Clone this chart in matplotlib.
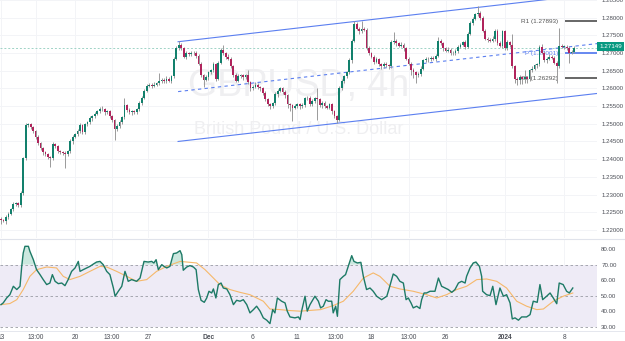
import numpy as np
import matplotlib
matplotlib.use("Agg")
import matplotlib.pyplot as plt
from matplotlib.transforms import blended_transform_factory

plt.rcParams['font.family'] = ['Liberation Sans', 'DejaVu Sans']

# ---------------- data ----------------
first_open = 1.2232
closes = [
    1.2228, 1.2225, 1.2236, 1.2245, 1.2259, 1.2273, 1.2276, 1.2270, 1.2304, 1.2402,
    1.2496, 1.2498, 1.2490, 1.2479, 1.2464, 1.2445, 1.2431, 1.2419, 1.2414, 1.2405,
    1.2402, 1.2442, 1.2436, 1.2422, 1.2419, 1.2417, 1.2414, 1.2422, 1.2450, 1.2464,
    1.2470, 1.2479, 1.2496, 1.2476, 1.2498, 1.2504, 1.2515, 1.2521, 1.2529, 1.2535,
    1.2543, 1.2541, 1.2532, 1.2535, 1.2521, 1.2510, 1.2484, 1.2493, 1.2504, 1.2518,
    1.2552, 1.2538, 1.2532, 1.2535, 1.2532, 1.2541, 1.2558, 1.2574, 1.2594, 1.2608,
    1.2611, 1.2608, 1.2611, 1.2614, 1.2622, 1.2625, 1.2620, 1.2628, 1.2622, 1.2634,
    1.2684, 1.2715, 1.2724, 1.2713, 1.2690, 1.2699, 1.2696, 1.2701, 1.2699, 1.2693,
    1.2670, 1.2637, 1.2625, 1.2631, 1.2645, 1.2651, 1.2668, 1.2628, 1.2673, 1.2710,
    1.2699, 1.2690, 1.2684, 1.2662, 1.2639, 1.2622, 1.2634, 1.2637, 1.2631, 1.2637,
    1.2617, 1.2600, 1.2605, 1.2611, 1.2603, 1.2600, 1.2586, 1.2569, 1.2555, 1.2549,
    1.2558, 1.2583, 1.2594, 1.2600, 1.2589, 1.2580, 1.2555, 1.2552, 1.2546, 1.2549,
    1.2555, 1.2549, 1.2552, 1.2572, 1.2574, 1.2555, 1.2563, 1.2572, 1.2569, 1.2552,
    1.2558, 1.2549, 1.2546, 1.2555, 1.2535, 1.2521, 1.2512, 1.2600, 1.2622, 1.2634,
    1.2645, 1.2679, 1.2735, 1.2783, 1.2769, 1.2761, 1.2769, 1.2766, 1.2715, 1.2699,
    1.2690, 1.2676, 1.2682, 1.2668, 1.2662, 1.2670, 1.2665, 1.2662, 1.2730, 1.2735,
    1.2727, 1.2721, 1.2724, 1.2713, 1.2684, 1.2670, 1.2653, 1.2645, 1.2637, 1.2642,
    1.2656, 1.2679, 1.2684, 1.2682, 1.2687, 1.2684, 1.2693, 1.2735, 1.2727, 1.2713,
    1.2707, 1.2710, 1.2701, 1.2699, 1.2707, 1.2718, 1.2724, 1.2730, 1.2718, 1.2755,
    1.2786, 1.2797, 1.2809, 1.2814, 1.2800, 1.2763, 1.2741, 1.2738, 1.2735, 1.2741,
    1.2763, 1.2727, 1.2721, 1.2761, 1.2713, 1.2730, 1.2724, 1.2662, 1.2628, 1.2625,
    1.2631, 1.2628, 1.2631, 1.2628, 1.2651, 1.2656, 1.2665, 1.2668, 1.2718, 1.2701,
    1.2679, 1.2684, 1.2690, 1.2687, 1.2673, 1.2662, 1.2721, 1.2718, 1.2718, 1.2715,
    1.2701, 1.2704, 1.2715,
]
# wick extents beyond the body, in pips
upper_wick = [
    4, 3, 5, 6, 4, 5, 3, 4, 5, 4, 6, 5, 4, 3, 4, 5, 3, 4, 5, 4,
    5, 6, 4, 5, 4, 3, 5, 4, 6, 5, 4, 5, 6, 4, 5, 4, 6, 5, 4, 5,
    4, 6, 5, 4, 5, 3, 4, 5, 6, 5, 20, 4, 6, 5, 4, 5, 6, 4, 5, 4,
    5, 4, 6, 5, 22, 4, 5, 6, 4, 5, 4, 6, 10, 5, 4, 6, 5, 4, 5, 6,
    5, 4, 5, 6, 4, 5, 6, 5, 4, 4, 14, 5, 6, 4, 5, 4, 6, 5, 4, 5,
    14, 5, 4, 6, 5, 4, 5, 6, 4, 5, 4, 6, 5, 4, 5, 6, 4, 5, 4, 6,
    5, 4, 6, 5, 4, 5, 6, 5, 30, 4, 6, 5, 4, 5, 4, 5, 4, 6, 5, 4,
    5, 6, 4, 8, 5, 4, 22, 5, 6, 4, 5, 4, 6, 5, 4, 5, 6, 5, 8, 25,
    5, 4, 6, 5, 4, 5, 6, 4, 5, 4, 6, 5, 4, 5, 6, 4, 5, 10, 5, 4,
    5, 6, 4, 5, 4, 6, 5, 4, 6, 5, 4, 6, 5, 20, 5, 4, 6, 5, 4, 6,
    5, 4, 6, 5, 4, 6, 5, 30, 4, 5, 6, 4, 20, 5, 4, 6, 5, 4, 6, 8,
    5, 4, 6, 5, 4, 5, 51, 5, 4, 6, 5, 4, 5,
]
lower_wick = [
    10, 4, 8, 5, 4, 6, 5, 4, 5, 4, 5, 6, 4, 5, 6, 4, 5, 6, 4, 5,
    25, 4, 5, 6, 4, 5, 40, 5, 4, 6, 5, 4, 5, 6, 4, 5, 4, 6, 5, 4,
    5, 4, 6, 5, 4, 5, 30, 5, 4, 6, 5, 4, 5, 6, 4, 5, 4, 6, 5, 4,
    5, 6, 4, 5, 4, 6, 5, 4, 5, 6, 4, 5, 6, 4, 5, 6, 4, 5, 4, 6,
    5, 4, 20, 5, 6, 4, 5, 6, 4, 5, 4, 6, 5, 4, 6, 5, 4, 5, 6, 4,
    5, 6, 4, 5, 4, 6, 5, 4, 5, 6, 4, 5, 6, 4, 5, 6, 10, 15, 37, 5,
    4, 6, 5, 4, 5, 6, 4, 5, 58, 4, 6, 5, 4, 5, 6, 5, 9, 4, 5, 6,
    4, 5, 6, 4, 5, 6, 4, 5, 6, 4, 5, 6, 4, 5, 6, 4, 5, 6, 4, 5,
    6, 4, 5, 6, 4, 5, 15, 15, 23, 5, 6, 4, 5, 6, 4, 5, 6, 4, 5, 6,
    4, 5, 6, 4, 5, 6, 4, 5, 6, 4, 5, 6, 4, 5, 6, 4, 5, 6, 4, 5,
    6, 4, 5, 6, 4, 5, 6, 4, 12, 14, 12, 15, 13, 12, 6, 5, 4, 6, 5, 4,
    5, 6, 4, 5, 4, 48, 5, 4, 6, 5, 28, 4, 5,
]

rsi_bar = [0, 0.9, 2.3, 3.6, 5.0, 6.4, 7.7, 8.4, 9.0, 9.7, 11.1, 11.7, 13.1, 14.4, 15.8,
           17.1, 18.5, 19.8, 20.8, 21.9, 23.2, 24.6, 25.9, 27.2, 28.6, 30, 31.3, 32, 33.3,
           34.7, 36, 37.4, 38.7, 40.1, 41.4, 42.8, 44.1, 45.5, 46.2, 47.5, 48.9, 50.2, 50.9,
           51.5, 52.9, 54.9, 56.3, 57.9, 59.6, 61, 61.9, 62.8, 63.7, 65.1, 66, 67.1, 68.4,
           69.8, 71.1, 72.5, 73.2, 73.8, 75.2, 76.5, 77.9, 79, 79.9, 81, 82.3, 83.3, 84.2,
           85.3, 86, 87, 88, 89.1, 90, 91.4, 92.7, 94.1, 95.4, 96.8, 98.1, 99.5, 100.8,
           102.2, 103.5, 104.9, 106.2, 107.6, 108.9, 110, 110.9, 111.9, 113.6, 115, 115.9,
           117, 119, 120.4, 121.1, 121.7, 123.1, 124, 125.1, 127.1, 128.5, 129.4, 130.5,
           131.6, 132.5, 133.9, 134.5, 135.5, 136.2, 137.2, 138.6, 139.5, 140.6, 142, 142.9,
           144.3, 145.7, 146.7, 148, 149.4, 150.7, 152.1, 154.1, 156.2, 157.2, 158.8, 160.2,
           161.5, 162.9, 164, 164.9, 166, 166.9, 168.3, 169.6, 170.3, 171.3, 172.3, 173.7,
           175.7, 177.1, 178.4, 179.8, 181.1, 182.5, 183.8, 185.2, 186.5, 187.9, 188.5, 189.9,
           191.2, 192.3, 193.7, 194.6, 195, 196.6, 198, 199.1, 200.4, 202, 203.4, 204.7,
           206.1, 207, 208.1, 209.5, 210.8, 212.8, 214.2, 215.5, 217.1, 218.2, 219.3, 220.9,
           222.3, 223.6, 225, 226, 227.6, 229, 230.1, 231.5]
rsi_val = [44.3, 45.4, 48.6, 50.7, 56.1, 54, 56.1, 69, 77.5, 81.8, 81.8, 78.6, 73.2, 66.8, 63.6,
           60.4, 57.2, 58.2, 63.6, 59.3, 57.8, 58.2, 56.5, 60.4, 65.7, 67.9, 72.1, 65.7, 66.8,
           67.9, 68.9, 70.4, 71.7, 72.1, 70, 65.7, 63.6, 55, 49.7, 52.9, 56.1, 65.7, 62.5,
           59.3, 60.4, 59.3, 61.4, 72.1, 71.7, 72.1, 71.1, 73.2, 66.8, 70, 68.9, 67.9, 68.9,
           77.1, 77.5, 79, 76.4, 66.4, 68.5, 69.4, 68.5, 66.8, 54, 47.1, 45.8, 48.6, 52.9,
           51.8, 54.4, 48.6, 57.2, 58.2, 55, 54.4, 50.7, 44.3, 47.1, 46.5, 47.5, 44.3, 39,
           41.1, 43.3, 40.1, 35.8, 34.3, 32.1, 41.1, 39, 48.6, 46.5, 45.4, 40.1,
           36.4, 35.8, 36.4, 34.7, 40.1, 49.7, 40.1, 44.3, 49.7, 46.5, 42.2, 43.3,
           47.5, 46.5, 46.5, 39, 43.3, 36.8, 60.4, 62.5, 63.6, 68.9, 75.8, 72.1,
           71.1, 71.5, 62.5, 54, 55, 52.9, 49.7, 47.5, 49.7, 55, 64, 62.5,
           59.3, 58.2, 47.5, 48.6, 45.4, 42.2, 43.3, 41.8, 47.5, 51.8, 51.8, 52.9,
           52.9, 61.4, 56.1, 55, 54, 52.2, 54, 58.2, 59.3, 58.2, 62.5, 67.9,
           71.1, 71.7, 68.9, 62.5, 52.9, 50.7, 50.1, 56.1, 44.3, 55, 49.7, 50.7,
           45.4, 35.1, 35.8, 34.3, 36.4, 36.4, 37.9, 46.5, 45.8, 57.2, 47.5, 49.7,
           51.8, 48.6, 44.9, 58.2, 57.2, 52.9, 51.8, 55]

ma_bar = [0, 3.6, 6.4, 9, 11.7, 14.4, 18.5, 22.5, 25.2, 27.9, 32, 36, 40.1, 42.8, 46.8, 50.9,
          54.9, 59, 63, 67.1, 72.5, 75.2, 79.2, 82.6, 86, 88.6, 92.7, 96.8, 100.8, 106.2,
          108.9, 113, 117, 121.1, 129.4, 134.5, 138.6, 142.6, 146.7, 150.7, 153.4, 157.5,
          161.5, 166.9, 172.3, 176.4, 180.4, 184.5, 188.5, 192.6, 196.6, 200.7, 204.7,
          208.8, 212.8, 216.9, 219.6, 223.6, 227.6, 231.5]
ma_val = [44.3, 45, 47.5, 54, 62.5, 66.8, 68.5, 67.9, 62.5, 60.4, 62.5, 65.7, 68.9, 68.5, 65.7,
          62.5, 59.3, 60.4, 65.7, 68.9, 72.1, 71.7, 71.1, 66.8, 61.4, 57.2, 54, 52.2, 50.7,
          46.5, 41.5, 41.1, 40.5, 40.1, 41.1, 43.7, 46.5, 52.9, 61.4, 64.7, 62.5, 56.1, 54.4,
          52.9, 50.7, 48.6, 50.7, 54, 56.1, 60.4, 60.8, 59.3, 55, 46.5, 43.3, 41.1, 41.5,
          46.5, 49.7, 51.8]

# channel (bar, price)
channel_bars = [71.7, 241.7]
channel_upper = [1.2732, 1.2868]
channel_mid = [1.2591, 1.2727]
channel_lower = [1.2450, 1.2586]

pivot_names = ["R1 (1.27893)", "P (1.27001)", "S1 (1.26292)"]
pivot_levels = [1.27893, 1.27001, 1.26292]
last_price = 1.27149

xtick_bars = [0, 14, 30, 45, 59.5, 84, 102, 120, 135.5, 150, 165, 180, 204, 228]
xtick_labels = ["13", "13:00", "20", "13:00", "27", "Dec", "6", "11", "13:00", "18",
                "13:00", "26", "2024", "8"]
bold_labels = ["Dec", "2024"]
price_ticks = [1.22, 1.225, 1.23, 1.235, 1.24, 1.245, 1.25, 1.255, 1.26, 1.265,
               1.27, 1.275, 1.28, 1.285]
rsi_ticks = [30, 40, 50, 60, 70, 80]

# ---------------- figure ----------------
W, H = 625, 341
fig = plt.figure(figsize=(W / 100, H / 100), dpi=100)
right = 597 / W
ax = fig.add_axes([0, 1 - 238 / H, right, 238 / H])
ax2 = fig.add_axes([0, 1 - 330 / H, right, (330 - 239) / H], sharex=ax)

GREEN = '#12806c'
RED = '#b0245c'
WICK = '#9a9a9a'
TXT = '#4a4d55'
BLUE = '#5b7ff0'
GRID = '#f3f4f7'

n = len(closes)
bars = np.arange(n)
c = np.array(closes)
o = np.concatenate([[first_open], c[:-1]])
hi = np.maximum(o, c) + np.array(upper_wick) / 10000.0
lo = np.minimum(o, c) - np.array(lower_wick) / 10000.0
up = c >= o
cols = np.where(up, GREEN, RED)

for a in (ax, ax2):
    for s in a.spines.values():
        s.set_visible(False)
    for xb in xtick_bars:
        a.axvline(xb, color=GRID, lw=0.7, zorder=0)

for p in price_ticks:
    ax.axhline(p, color=GRID, lw=0.7, zorder=0)

# watermark
ax.text(0.5, 0.64, "GBPUSD, 4h", transform=ax.transAxes, ha='center', va='center',
        fontsize=27, color='#efeff1', zorder=0.5)
ax.text(0.5, 0.455, "British Pound / U.S. Dollar", transform=ax.transAxes, ha='center',
        va='center', fontsize=13, color='#efeff1', zorder=0.5)

# pivot texts (behind candles)
for name, lvl in zip(pivot_names, pivot_levels):
    is_p = name.startswith("P ")
    ax.text(225.5, lvl, name, ha='right', va='center', fontsize=4.6,
            color=(BLUE if is_p else '#555555'), zorder=1)
    ax.plot([228.3, 241.5], [lvl, lvl], color=(BLUE if is_p else '#5a5a5a'),
            lw=1.3, zorder=1.5, solid_capstyle='butt')

# channel
ax.plot(channel_bars, channel_upper, color=BLUE, lw=0.8, zorder=1.2)
ax.plot(channel_bars, channel_lower, color=BLUE, lw=0.8, zorder=1.2)
ax.plot(channel_bars, channel_mid, color=BLUE, lw=0.8, ls=(0, (3, 3)), zorder=1.2)

# current price dotted
ax.axhline(last_price, color='#9fd3c6', lw=0.7, ls=(0, (2, 2)), zorder=1.1)

# candles
ax.vlines(bars, lo, hi, color=WICK, lw=0.7, zorder=2)
body = np.abs(c - o)
body = np.maximum(body, 0.00006)
ax.bar(bars, body, bottom=np.minimum(o, c), width=0.72, color=cols, zorder=3, linewidth=0)

ax.set_ylim(1.2177, 1.2848)
ax.set_xlim(-0.4, 241.3)
ax.yaxis.tick_right()
ax.set_yticks(price_ticks)
ax.set_yticklabels([f"{p:.5f}" for p in price_ticks])
ax.tick_params(axis='y', length=0, labelsize=4.4, labelcolor=TXT, pad=3)
ax.tick_params(axis='x', length=0, labelbottom=False)

# price box
tr = blended_transform_factory(ax.transAxes, ax.transData)
ax.text(1.004, last_price + 0.0003, f"{last_price:.5f}", transform=tr, ha='left', va='center',
        fontsize=4.5, color='white', zorder=10, clip_on=False,
        bbox=dict(boxstyle='square,pad=0.35', fc='#089981', ec='none'))

# ---------------- RSI ----------------
ax2.axhspan(30, 70, color='#eeebf6', zorder=0.2, lw=0)
for lvl in (30, 50, 70):
    ax2.axhline(lvl, color='#9a9ca4', lw=0.6, ls=(0, (3, 3)), zorder=0.5)
rb = np.array(rsi_bar)
rv = np.array(rsi_val)
ax2.fill_between(rb, rv, 70, where=rv > 70, interpolate=True, color='#bfe3d7', alpha=0.8,
                 zorder=1, lw=0)
ax2.plot(ma_bar, ma_val, color='#f6b86a', lw=0.8, zorder=2)
ax2.plot(rb, rv, color='#1d7a66', lw=1.0, zorder=3)
ax2.set_ylim(28, 86.5)
ax2.yaxis.tick_right()
ax2.set_yticks(rsi_ticks)
ax2.set_yticklabels([f"{v:.2f}" for v in rsi_ticks])
ax2.tick_params(axis='y', length=0, labelsize=4.4, labelcolor=TXT, pad=3)

ax2.set_xticks(xtick_bars)
ax2.set_xticklabels(xtick_labels)
ax2.tick_params(axis='x', length=0, labelsize=4.8, labelcolor=TXT, pad=3)
for lab in ax2.get_xticklabels():
    if lab.get_text() in bold_labels:
        lab.set_fontweight('bold')

# pane separators
fig.add_artist(plt.Line2D([0, 1], [1 - 238.5 / H] * 2, color='#e0e3eb', lw=0.8))
fig.add_artist(plt.Line2D([0, 1], [1 - 330.5 / H] * 2, color='#e0e3eb', lw=0.6))

fig.savefig("out.png", dpi=100)
